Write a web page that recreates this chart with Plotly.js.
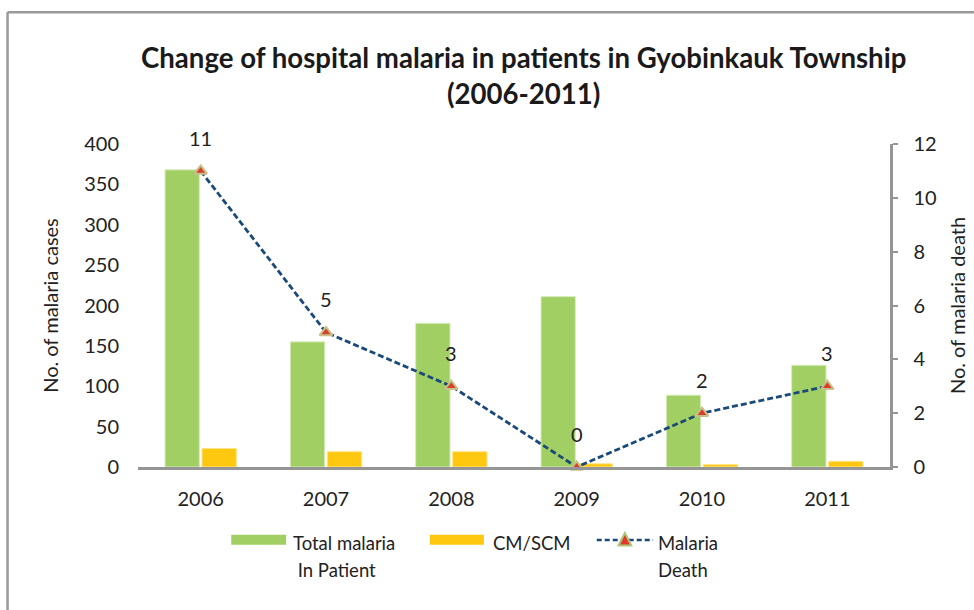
<!DOCTYPE html>
<html>
<head>
<meta charset="utf-8">
<script src="https://cdn.plot.ly/plotly-3.0.1.min.js"></script>
<style>
  html, body { margin: 0; padding: 0; background: #fff; }
  #chart { width: 974px; height: 610px; }
</style>
</head>
<body>
<div id="chart"></div>
<script>
const years = ["2006", "2007", "2008", "2009", "2010", "2011"];
const totalMalaria = [368, 155, 178, 211, 89, 126];
const cmScm = [23, 19, 19, 4, 3, 7];
const deaths = [11, 5, 3, 0, 2, 3];
const seriesNames = ["Total malaria<br> In Patient", "CM/SCM", "Malaria<br>Death"];

const FONT = "Lato, 'Open Sans', sans-serif";
const green = "#a1cf63";
const yellow = "#fec810";
const navy = "#1a4a78";

const traces = [
  {
    type: "bar", x: years, y: totalMalaria, name: seriesNames[0],
    marker: { color: green, line: { color: "#d9ecc0", width: 1 } },
    yaxis: "y", hoverinfo: "x+y"
  },
  {
    type: "bar", x: years, y: cmScm, name: seriesNames[1],
    marker: { color: yellow, line: { color: "#ffe58a", width: 1 } },
    yaxis: "y", hoverinfo: "x+y"
  },
  {
    type: "scatter", mode: "lines+markers", x: years, y: deaths, name: seriesNames[2],
    yaxis: "y2",
    line: { color: navy, width: 2.8, dash: "6px,3px" },
    marker: { symbol: "triangle-up", size: 11, color: "#d8402a", line: { color: "#c8c08a", width: 2 } },
    cliponaxis: false
  }
];

// data labels (category axis: annotation x is the category index)
const annotations = deaths.map((d, i) => ({
  x: i, y: d, xref: "x", yref: "y2",
  text: String(d), showarrow: false, yshift: 33,
  font: { family: FONT, size: 20, color: "#222" }
}));

// Title
annotations.push({
  xref: "paper", yref: "paper", x: 0.513, y: 1.212,
  xanchor: "center", yanchor: "middle",
  text: "<b>Change of hospital malaria in patients in Gyobinkauk Township</b><br><b>(2006-2011)</b>",
  showarrow: false, align: "center",
  font: { family: FONT, size: 27.6, color: "#1a1a1a" }
});

// Custom legend (below plot)
const legY = -0.226;
const lineStep = 0.082;
const legendItems = [
  { x0: 0.124, x1: 0.197, tx: 0.204, kind: "bar", color: green, lines: ["Total malaria", " In Patient"] },
  { x0: 0.388, x1: 0.460, tx: 0.469, kind: "bar", color: yellow, lines: ["CM/SCM"] },
  { x0: 0.610, x1: 0.685, tx: 0.689, kind: "line", color: navy, lines: ["Malaria", "Death"] }
];
const shapes = [
  // outer frame
  { type: "line", xref: "paper", yref: "paper", x0: -0.1735, x1: 1.12, y0: 1.408, y1: 1.408,
    line: { color: "#9a9a9a", width: 2.5 } },
  { type: "line", xref: "paper", yref: "paper", x0: -0.1735, x1: -0.1735, y0: 1.408, y1: -0.46,
    line: { color: "#9a9a9a", width: 2.5 } }
];
legendItems.forEach(it => {
  if (it.kind === "bar") {
    shapes.push({ type: "rect", xref: "paper", yref: "paper", x0: it.x0, x1: it.x1,
      y0: legY - 0.015, y1: legY + 0.016, fillcolor: it.color, line: { width: 0 } });
  } else {
    shapes.push({ type: "line", xref: "paper", yref: "paper", x0: it.x0, x1: it.x1,
      y0: legY, y1: legY, line: { color: it.color, width: 2.5, dash: "5px,3px" } });
    const cx = (it.x0 + it.x1) / 2;
    shapes.push({ type: "path", xref: "paper", yref: "paper",
      path: `M ${cx - 0.0085} ${legY - 0.017} L ${cx + 0.0085} ${legY - 0.017} L ${cx} ${legY + 0.022} Z`,
      fillcolor: "#e2372a", line: { color: "#a8c878", width: 2 } });
  }
  it.lines.forEach((ln, k) => {
    annotations.push({ xref: "paper", yref: "paper", x: it.tx, y: legY - 0.01 - k * lineStep,
      xanchor: "left", yanchor: "middle", align: "left", showarrow: false,
      text: ln, font: { family: FONT, size: 18.5, color: "#222" } });
  });
});

const layout = {
  width: 974, height: 610,
  margin: { l: 138, r: 84, t: 144, b: 143 },
  paper_bgcolor: "#ffffff", plot_bgcolor: "#ffffff",
  font: { family: FONT, size: 20, color: "#222" },
  showlegend: false,
  barmode: "group", bargap: 0.41, bargroupgap: 0.07,
  xaxis: {
    type: "category", showgrid: false, zeroline: false,
    showline: true, linecolor: "#959595", linewidth: 3,
    ticks: "", tickfont: { family: FONT, size: 20, color: "#222" },
    ticklabelstandoff: 12
  },
  yaxis: {
    range: [0, 400], dtick: 50, showgrid: false, zeroline: false, showline: false,
    ticks: "", tickfont: { family: FONT, size: 20, color: "#222" }, ticklabelstandoff: 18,
    title: { text: "No. of malaria cases", font: { family: FONT, size: 20, color: "#222" }, standoff: 20 }
  },
  yaxis2: {
    range: [0, 12], dtick: 2, overlaying: "y", side: "right",
    showgrid: false, zeroline: false, showline: true, linecolor: "#959595", linewidth: 2.5,
    ticks: "outside", ticklen: 5, tickcolor: "#959595", tickwidth: 2,
    tickfont: { family: FONT, size: 20, color: "#222" }, ticklabelstandoff: 12,
    title: { text: "No. of malaria death", font: { family: FONT, size: 20, color: "#222" }, standoff: 16 }
  },
  annotations: annotations,
  shapes: shapes
};

Plotly.newPlot("chart", traces, layout, { displayModeBar: false, staticPlot: true });
</script>
</body>
</html>
